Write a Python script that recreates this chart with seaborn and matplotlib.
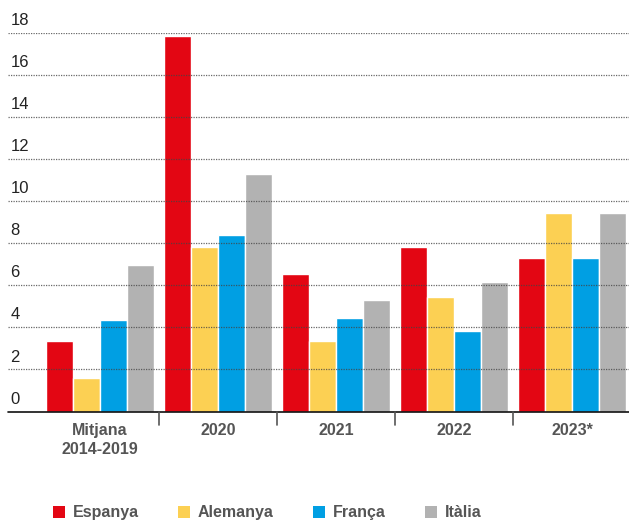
import matplotlib
matplotlib.use("Agg")
import matplotlib.pyplot as plt
import matplotlib.transforms as mtransforms
from matplotlib.patches import Patch
import seaborn as sns
import pandas as pd

# Data
periods = ["Mitjana\n2014-2019", "2020", "2021", "2022", "2023*"]
countries = ["Espanya", "Alemanya", "França", "Itàlia"]
espanya = [3.35, 17.83, 6.53, 7.81, 7.29]
alemanya = [1.58, 7.81, 3.35, 5.44, 9.44]
franca = [4.36, 8.38, 4.42, 3.81, 7.27]
italia = [6.96, 11.28, 5.29, 6.15, 9.44]
y_ticks = [0, 2, 4, 6, 8, 10, 12, 14, 16, 18]

colors = ["#E30613", "#FCD053", "#009FE3", "#B2B2B2"]

df = pd.DataFrame({
    "period": periods * 4,
    "country": [c for c in countries for _ in periods],
    "value": espanya + alemanya + franca + italia,
})

sns.set_theme(style="white")
plt.rcParams["font.family"] = ["Liberation Sans Narrow", "Liberation Sans", "DejaVu Sans"]

fig = plt.figure(figsize=(6.29, 5.24), dpi=100)
W, H = 629, 524
ax = fig.add_axes([8 / W, (H - 411.5) / H, 1 - 8 / W, (411.5 - 32.5) / H])

sns.barplot(data=df, x="period", y="value", hue="country", order=periods,
            hue_order=countries, palette=colors, width=0.915, ax=ax,
            edgecolor="white", linewidth=1.0, saturation=1, errorbar=None,
            legend=False)

ax.set_xlim(-0.775, 4.48)
ax.set_ylim(0, 18)
for s in ax.spines.values():
    s.set_visible(False)

# dotted grid on top of the bars
for v in y_ticks[1:]:
    ax.axhline(v, color="#444444", lw=0.9, ls=(0, (1, 1)), alpha=0.8, zorder=5)
ax.axhline(0, color="#111111", lw=1.2, zorder=6, clip_on=False)

# y labels sitting above each gridline
trans = mtransforms.blended_transform_factory(ax.transAxes, ax.transData)
for v in y_ticks:
    ax.annotate(str(v), xy=(0.004, v), xycoords=trans, xytext=(0, 3.5),
                textcoords="offset points", ha="left", va="bottom",
                fontsize=12, color="#222222",
                family=["Liberation Sans", "DejaVu Sans"])
ax.set_yticks([])

# group separators below baseline
for i in range(len(periods) - 1):
    ax.plot([i + 0.5, i + 0.5], [0, -0.62], color="#555555", lw=1.2,
            clip_on=False, zorder=6)

ax.set_xticks(range(len(periods)))
ax.set_xticklabels(periods, fontsize=11.5, fontweight="bold", color="#555555",
                   linespacing=1.35)
ax.tick_params(axis="x", length=0, pad=8)
ax.set_xlabel("")
ax.set_ylabel("")

handles = [Patch(facecolor=c, edgecolor="none") for c in colors]
fig.legend(handles, countries, loc="center", bbox_to_anchor=(0.425, 0.021),
           ncol=4, frameon=False, handlelength=0.75, handleheight=0.75,
           handletextpad=0.5, columnspacing=2.45,
           prop={"weight": "bold", "size": 11.5},
           labelcolor="#555555")

fig.savefig("out.png", dpi=100)
